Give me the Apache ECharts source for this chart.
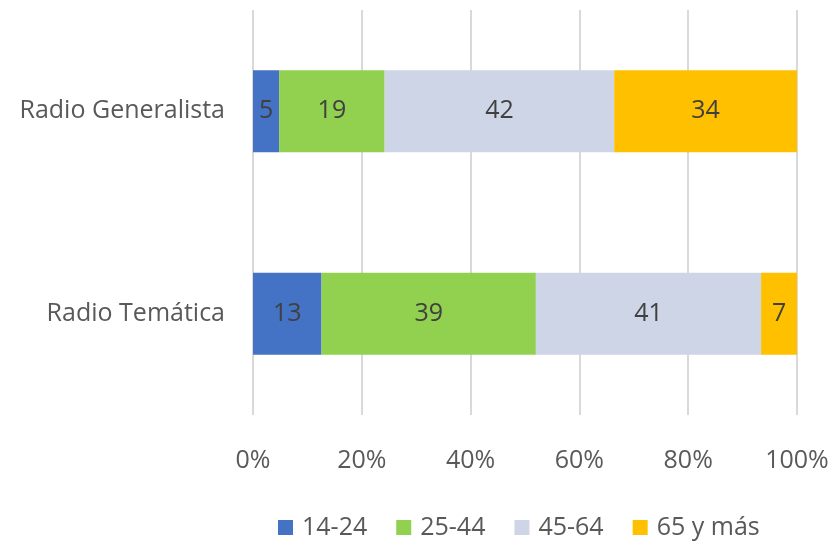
<!DOCTYPE html>
<html>
<head>
<meta charset="utf-8">
<script src="https://cdn.jsdelivr.net/npm/echarts@6/dist/echarts.min.js"></script>
<style>html,body{margin:0;padding:0;background:#fff}#c{width:835px;height:541px}</style>
</head>
<body>
<div id="c"></div>
<script>
const categories = ['Radio Generalista', 'Radio Temática'];
const seriesNames = ['14-24', '25-44', '45-64', '65 y más'];
const s1424 = [4.8, 12.6];
const s2544 = [19.4, 39.4];
const s4564 = [42.2, 41.4];
const s65 = [33.6, 6.6];
const xTicks = [0, 20, 40, 60, 80, 100];
const colors = ['#4472C4', '#92D050', '#CDD5E6', '#FFC000'];

const font = 'Open Sans';
const fs = 25;
const chart = echarts.init(document.getElementById('c'));
const values = [s1424, s2544, s4564, s65];
chart.setOption({
  animation: false,
  textStyle: { fontFamily: font },
  grid: { left: 253, right: 38, top: 10, bottom: 126, containLabel: false },
  legend: {
    top: 515, left: 278, itemWidth: 15, itemHeight: 15, itemGap: 29, padding: 0,
    icon: 'rect',
    textStyle: { fontSize: fs, color: '#595959', fontFamily: font, padding: [0, 0, 0, 4] },
    data: seriesNames
  },
  xAxis: {
    type: 'value', min: 0, max: 100, interval: 20,
    axisLine: { show: false }, axisTick: { show: false },
    splitLine: { lineStyle: { color: '#D9D9D9', width: 2 } },
    axisLabel: { fontSize: fs, color: '#595959', margin: 33, formatter: v => xTicks.includes(v) ? v + '%' : '' }
  },
  yAxis: {
    type: 'category', data: categories, inverse: true,
    axisLine: { show: false }, axisTick: { show: false },
    axisLabel: { fontSize: fs, color: '#595959', margin: 28 }
  },
  series: values.map((v, i) => ({
    name: seriesNames[i], type: 'bar', stack: 'total', barWidth: 82,
    itemStyle: { color: colors[i] },
    label: { show: true, position: 'inside', fontSize: fs, color: '#404040', fontFamily: font,
      formatter: p => Math.round(p.value) },
    data: v
  }))
});
</script>
</body>
</html>
